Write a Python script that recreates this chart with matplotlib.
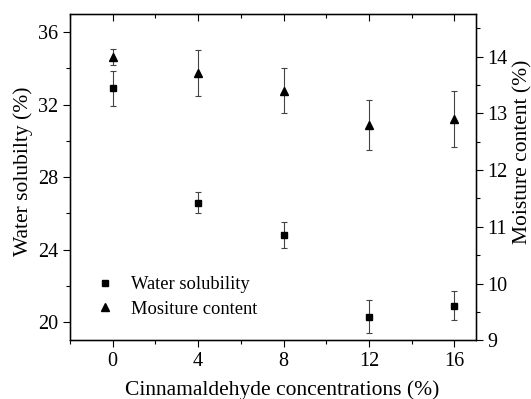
import numpy as np
import matplotlib
matplotlib.use('Agg')
import matplotlib.pyplot as plt
from matplotlib.ticker import MultipleLocator
from matplotlib.lines import Line2D

fs = 14.5
plt.rc('font', family='Liberation Serif', size=fs)

conc = [0, 4, 8, 12, 16]
solubility = [32.9, 26.6, 24.8, 20.3, 20.9]
solubility_err = [0.95, 0.6, 0.7, 0.9, 0.8]
moisture = [14.0, 13.71, 13.4, 12.8, 12.9]
moisture_err = [0.14, 0.41, 0.4, 0.44, 0.5]

fig = plt.figure(figsize=(5.31, 3.99), dpi=100)
ax1 = fig.add_axes([70/531, 1-340.3/399, 405.7/531, 326.3/399])
ax2 = ax1.twinx()
ax3 = ax1.twiny()

ebkw = dict(ecolor='#444444', elinewidth=0.8, capsize=2.5, capthick=0.8, linestyle='none')
ax1.errorbar(conc, solubility, yerr=solubility_err, marker='s', ms=4.5,
             color='black', **ebkw)
ax2.errorbar(conc, moisture, yerr=moisture_err, marker='^', ms=6,
             color='black', **ebkw)

ax1.set_xlim(-2, 17)
ax3.set_xlim(-2, 17)
ax1.set_ylim(19, 37)
ax2.set_ylim(9, 14.75)

ax1.set_xticks(conc)
ax3.set_xticks(conc)
ax1.xaxis.set_minor_locator(MultipleLocator(2))
ax3.xaxis.set_minor_locator(MultipleLocator(2))
ax1.yaxis.set_major_locator(MultipleLocator(4))
ax1.yaxis.set_minor_locator(MultipleLocator(2))
ax2.yaxis.set_major_locator(MultipleLocator(1))
ax2.yaxis.set_minor_locator(MultipleLocator(0.5))

for ax in (ax1, ax2):
    ax.tick_params(which='both', direction='out', width=0.8)
    ax.tick_params(which='major', length=5)
    ax.tick_params(which='minor', length=3)
ax3.tick_params(which='both', direction='in', width=0.8, labeltop=False)
ax3.tick_params(which='major', length=5)
ax3.tick_params(which='minor', length=3)

for sp in ax1.spines.values():
    sp.set_linewidth(1.0)

ax1.set_xlabel('Cinnamaldehyde concentrations (%)', fontsize=15.5)
ax1.xaxis.set_label_coords(0.523, -0.122)
ax1.xaxis.label.set_va('top')
ax1.set_ylabel('Water solubilty (%)', fontsize=15.5)
ax1.yaxis.set_label_coords(-0.091, 0.519)
ax2.set_ylabel('Moisture content (%)', fontsize=15.5)
ax2.yaxis.set_label_coords(1.092, 0.577)

handles = [Line2D([], [], marker='s', ms=4.5, color='black', ls='none'),
           Line2D([], [], marker='^', ms=6, color='black', ls='none')]
ax1.legend(handles, ['Water solubility', 'Mositure content'], loc='lower left',
           bbox_to_anchor=(0.01, 0.018), frameon=False, handlelength=1.5,
           handletextpad=0.7, labelspacing=0.4, fontsize=13.3)

fig.savefig('out.png', dpi=100)
